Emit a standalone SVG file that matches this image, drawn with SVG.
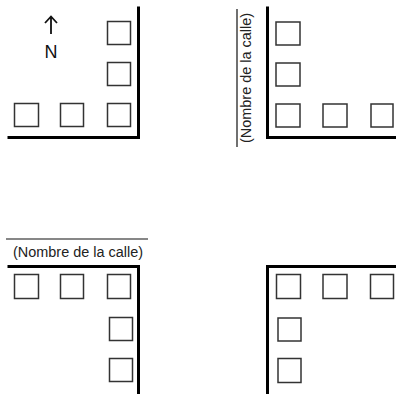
<svg xmlns="http://www.w3.org/2000/svg" width="396" height="394" viewBox="0 0 396 394">
<style>
.box{fill:#fff;stroke:#333;stroke-width:1.5}
.wall{fill:none;stroke:#000;stroke-width:3;stroke-linecap:square}
.thin{stroke:#111;stroke-width:1.2}
.lbl{font-family:"Liberation Sans",Arial,sans-serif;font-size:14px;fill:#222}
</style>
<rect width="396" height="394" fill="#fff"/>
<g id="q1">
<path class="wall" d="M138.5,8 V137.5 H9"/>
<rect class="box" x="107.5" y="21.5" width="23" height="23"/>
<rect class="box" x="107.5" y="62.5" width="23" height="23"/>
<rect class="box" x="14.5" y="103.5" width="24" height="23"/>
<rect class="box" x="60.5" y="103.5" width="23" height="23"/>
<rect class="box" x="107.5" y="103.5" width="23" height="23"/>
<g id="north">
<path d="M51,17 V34 M45,23 L51,16.5 L57,23" fill="none" stroke="#111" stroke-width="1.8"/>
<text x="51" y="58" text-anchor="middle" style="font-family:'Liberation Sans',Arial,sans-serif;font-size:18px;fill:#111">N</text>
</g>
</g>
<g id="q2">
<path class="wall" d="M267.5,8 V137.5 H396"/>
<rect class="box" x="276" y="22" width="24" height="23"/>
<rect class="box" x="276" y="63" width="24" height="23"/>
<rect class="box" x="276" y="104" width="24" height="23"/>
<rect class="box" x="323" y="104" width="24" height="23"/>
<rect class="box" x="371" y="104" width="22" height="23"/>
<line class="thin" x1="237" y1="9" x2="237" y2="147"/>
<text class="lbl" transform="translate(250.5,143) rotate(-90)" textLength="130" lengthAdjust="spacingAndGlyphs">(Nombre de la calle)</text>
</g>
<g id="q3">
<line class="thin" x1="6" y1="239" x2="148" y2="239"/>
<text class="lbl" x="13" y="257" textLength="130" lengthAdjust="spacingAndGlyphs">(Nombre de la calle)</text>
<path class="wall" d="M9,266.5 H138.5 V396"/>
<rect class="box" x="14.5" y="274.5" width="24" height="24"/>
<rect class="box" x="60.5" y="274.5" width="23" height="24"/>
<rect class="box" x="107.5" y="274.5" width="23" height="24"/>
<rect class="box" x="109.5" y="317.5" width="23" height="23"/>
<rect class="box" x="109.5" y="358.5" width="23" height="23"/>
</g>
<g id="q4">
<path class="wall" d="M396,266.5 H267.5 V396"/>
<rect class="box" x="276.5" y="274.5" width="24" height="24"/>
<rect class="box" x="323" y="274.5" width="24" height="24"/>
<rect class="box" x="370.5" y="274.5" width="23" height="24"/>
<rect class="box" x="278" y="318" width="23" height="23"/>
<rect class="box" x="278" y="358.5" width="23" height="24"/>
</g>
<g id="connectors"/>
</svg>
